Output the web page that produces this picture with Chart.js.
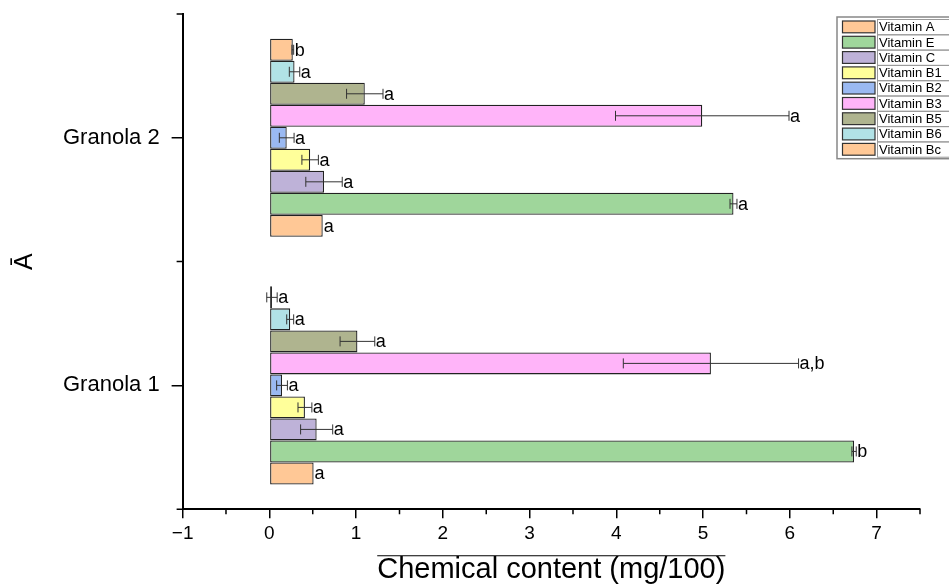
<!DOCTYPE html>
<html>
<head>
<meta charset="utf-8">
<script src="https://cdn.jsdelivr.net/npm/chart.js@4.4.1/dist/chart.umd.min.js"></script>
<style>
  html, body { margin: 0; padding: 0; background: #fff; }
  #wrap { width: 949px; height: 586px; }
</style>
</head>
<body>
<div id="wrap"><canvas id="chart"></canvas></div>
<script>
// legend order (bottom bar of each group first)
const vitamins = ["Vitamin A", "Vitamin E", "Vitamin C", "Vitamin B1", "Vitamin B2",
                  "Vitamin B3", "Vitamin B5", "Vitamin B6", "Vitamin Bc"];
const colors = ["#FFC896", "#9FD69B", "#BEB2D8", "#FFFF9A", "#9AB9F2",
                "#FFB4F9", "#AFB48F", "#B1E2E6", "#FFC896"];

const groups = ["Granola 1", "Granola 2"];
const groupPos = [1, 2];
const xTicks = [-1, 0, 1, 2, 3, 4, 5, 6, 7];

const granola1 = [0.51, 6.74, 0.545, 0.41, 0.146, 5.09, 1.015, 0.24, 0.03];
const granola2 = [0.615, 5.35, 0.63, 0.47, 0.20, 4.99, 1.10, 0.29, 0.27];
const err1 = [0, 0.025, 0.185, 0.08, 0.062, 1.01, 0.20, 0.04, 0.06];
const err2 = [0, 0.04, 0.21, 0.095, 0.085, 1.00, 0.21, 0.06, 0.01];
const letters1 = ["a", "b", "a", "a", "a", "a,b", "a", "a", "a"];
const letters2 = ["a", "a", "a", "a", "a", "a", "a", "a", "b"];

const FONT = "'Liberation Sans', Arial, sans-serif";
const xTitle = "Chemical content (mg/100)";
const xTitleSize = 29;
const xTitlePadBottom = 2;

// datasets go top to bottom inside a group, so build them reversed
const datasets = vitamins.map((name, i) => ({
  label: name,
  data: [
    { x: granola1[i], y: groupPos[0] },
    { x: granola2[i], y: groupPos[1] }
  ],
  errors: [err1[i], err2[i]],
  letters: [letters1[i], letters2[i]],
  backgroundColor: colors[i],
  borderColor: "#222",
  borderWidth: 1.3,
  borderSkipped: false
})).reverse();

const extras = {
  id: "extras",
  afterDatasetsDraw(chart) {
    const ctx = chart.ctx;
    const xs = chart.scales.x;
    ctx.save();
    ctx.font = "18px " + FONT;
    ctx.textBaseline = "middle";
    ctx.textAlign = "left";
    chart.data.datasets.forEach((ds, di) => {
      chart.getDatasetMeta(di).data.forEach((bar, j) => {
        const v = ds.data[j].x, e = ds.errors[j];
        const y = bar.y;
        const x1 = xs.getPixelForValue(v - e);
        const x2 = xs.getPixelForValue(v + e);
        if (e > 0) {
          ctx.strokeStyle = "#333";
          ctx.lineWidth = 1;
          ctx.beginPath();
          ctx.moveTo(x1, y); ctx.lineTo(x2, y);
          ctx.moveTo(x1, y - 5); ctx.lineTo(x1, y + 5);
          ctx.moveTo(x2, y - 5); ctx.lineTo(x2, y + 5);
          ctx.stroke();
        }
        ctx.fillStyle = "#000";
        ctx.fillText(ds.letters[j], Math.max(x2, bar.x) + 1, y + 1);
      });
    });
    ctx.restore();
  },
  afterDraw(chart) {
    const ctx = chart.ctx;
    const xs = chart.scales.x, ys = chart.scales.y;
    ctx.save();
    // minor ticks
    ctx.strokeStyle = "#000";
    ctx.lineWidth = 1.5;
    ctx.beginPath();
    xs.ticks.forEach(t => {
      const v = t.value + 0.5;
      if (v <= xs.max) {
        const px = xs.getPixelForValue(v);
        ctx.moveTo(px, xs.top); ctx.lineTo(px, xs.top + 5);
      }
    });
    const yMinor = new Set();
    ys.ticks.forEach(t => { yMinor.add(t.value - 0.5); yMinor.add(t.value + 0.5); });
    yMinor.forEach(v => {
      const py = ys.getPixelForValue(v);
      ctx.moveTo(ys.right, py); ctx.lineTo(ys.right - 6, py);
    });
    ctx.stroke();

    // overline above the x title
    ctx.font = xTitleSize + "px " + FONT;
    const w = ctx.measureText(xTitle).width;
    const cx = (xs.left + xs.right) / 2;
    const cy = xs.bottom - xTitlePadBottom - xTitleSize / 2;
    const ly = cy - xTitleSize * 0.37 - 3;
    ctx.lineWidth = 1.2;
    ctx.beginPath();
    ctx.moveTo(cx - w / 2, ly); ctx.lineTo(cx + w / 2, ly);
    ctx.stroke();

    // legend box
    const lx = 837, ly0 = 17, rowH = 15.3, right = chart.width + 5;
    ctx.font = "13px " + FONT;
    ctx.textBaseline = "middle";
    vitamins.forEach((name, i) => {
      const top = ly0 + 2 + i * rowH;
      ctx.fillStyle = colors[i];
      ctx.fillRect(842.5, top + 2, 32.5, rowH - 3.5);
      ctx.strokeStyle = "#333";
      ctx.lineWidth = 1.2;
      ctx.strokeRect(842.5, top + 2, 32.5, rowH - 3.5);
      ctx.strokeStyle = "#999";
      ctx.lineWidth = 1;
      ctx.strokeRect(877.5, top + 0.5, right - 877.5, rowH);
      ctx.fillStyle = "#000";
      ctx.fillText(name, 879, top + rowH / 2 + 1);
    });
    ctx.strokeStyle = "#888";
    ctx.lineWidth = 1.5;
    ctx.strokeRect(lx, ly0, right - lx, vitamins.length * rowH + 4);
    ctx.restore();
  }
};

new Chart(document.getElementById("chart"), {
  type: "bar",
  data: { datasets: datasets },
  options: {
    indexAxis: "y",
    responsive: true,
    maintainAspectRatio: false,
    animation: false,
    layout: { padding: { top: 14, right: 29, left: 0, bottom: 0 } },
    datasets: { bar: { barPercentage: 1, categoryPercentage: 0.8 } },
    plugins: {
      legend: { display: false },
      tooltip: { enabled: false }
    },
    scales: {
      x: {
        type: "linear",
        min: -1,
        max: 7.5,
        afterBuildTicks: s => { s.ticks = xTicks.map(v => ({ value: v })); },
        ticks: {
          autoSkip: false,
          maxRotation: 0,
          padding: 4,
          color: "#000",
          font: { family: FONT, size: 19 },
          callback: v => (v < 0 ? "\u2212" + Math.abs(v) : String(v))
        },
        grid: { drawOnChartArea: false, drawTicks: true, tickLength: 9, color: "#000", lineWidth: 1.5 },
        border: { color: "#000", width: 2 },
        title: {
          display: true,
          text: xTitle,
          color: "#000",
          font: { family: FONT, size: xTitleSize, lineHeight: 1 },
          padding: { top: 6, bottom: xTitlePadBottom }
        }
      },
      y: {
        type: "linear",
        offset: false,
        min: 0.5,
        max: 2.5,
        afterBuildTicks: s => { s.ticks = groupPos.map(v => ({ value: v })); },
        ticks: {
          padding: 12,
          color: "#000",
          font: { family: FONT, size: 22, lineHeight: 0.1 },
          callback: v => groups[groupPos.indexOf(v)] || ""
        },
        grid: { offset: false, drawOnChartArea: false, drawTicks: true, tickLength: 11, color: "#000", lineWidth: 1.5 },
        border: { color: "#000", width: 2 },
        title: {
          display: true,
          text: "\u0100",
          color: "#000",
          font: { family: FONT, size: 25 },
          padding: { top: 10, bottom: 11 }
        }
      }
    }
  },
  plugins: [extras]
});
</script>
</body>
</html>
